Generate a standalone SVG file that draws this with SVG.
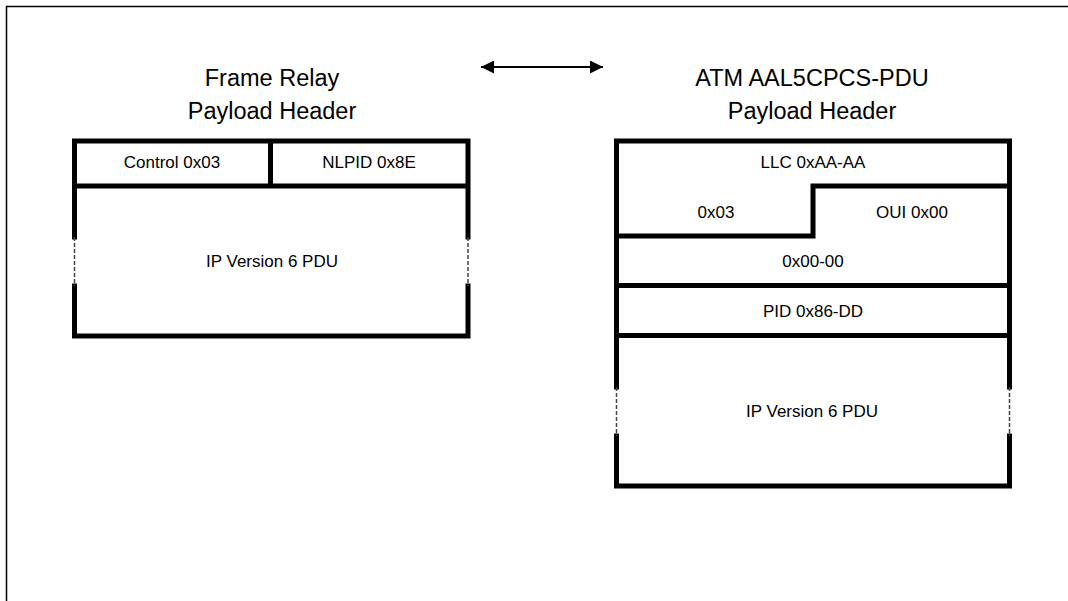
<svg xmlns="http://www.w3.org/2000/svg" width="1068" height="601" viewBox="0 0 1068 601">
<style>
.t{font-family:"Liberation Sans",Arial,sans-serif;fill:#000;text-anchor:middle}
.h{font-size:23.5px}
.s{font-size:17px}
.b{stroke:#000;stroke-width:5;fill:none;stroke-linecap:square}
.d{stroke:#444;stroke-width:1.5;stroke-dasharray:4 2;fill:none}
</style>
<defs>
<marker id="ah" viewBox="0 0 13 13" refX="13" refY="6.5" markerWidth="13" markerHeight="13" markerUnits="userSpaceOnUse" orient="auto-start-reverse">
<path d="M0,0 L13,6.5 L0,13 z" fill="#000"/>
</marker>
</defs>
<rect width="1068" height="601" fill="#fff"/>
<g id="frame"><path d="M6.5,601 V6.5 H1068" stroke="#000" stroke-width="1.5" fill="none"/></g>
<g id="title-fr"><text class="t h" x="272" y="86">Frame Relay</text><text class="t h" x="272" y="119">Payload Header</text></g>
<g id="title-atm"><text class="t h" x="812" y="86">ATM AAL5CPCS-PDU</text><text class="t h" x="812" y="119">Payload Header</text></g>
<g id="connectors"><line x1="481" y1="67" x2="603" y2="67" stroke="#000" stroke-width="2" marker-start="url(#ah)" marker-end="url(#ah)"/></g>
<g id="fr-box">
<path class="b" d="M74.5,237 V141 H468 V237 M74.5,286 V336 H468 V286 M74.5,186 H468 M270.5,141 V186"/>
<path class="d" d="M74.5,237 V286 M468,237 V286"/>
<text class="t s" x="172" y="168">Control 0x03</text>
<text class="t s" x="369" y="168">NLPID 0x8E</text>
<text class="t s" x="272" y="267">IP Version 6 PDU</text>
</g>
<g id="atm-box">
<path class="b" d="M616.5,387 V141 H1009.5 V387 M616.5,436 V486 H1009.5 V436 M1009.5,186 H813 V236 H616.5 M616.5,285.5 H1009.5 M616.5,335.5 H1009.5"/>
<path class="d" d="M616.5,387 V436 M1009.5,387 V436"/>
<text class="t s" x="813" y="167.5">LLC 0xAA-AA</text>
<text class="t s" x="716" y="218">0x03</text>
<text class="t s" x="912" y="218">OUI 0x00</text>
<text class="t s" x="813" y="267">0x00-00</text>
<text class="t s" x="813" y="317">PID 0x86-DD</text>
<text class="t s" x="812" y="417">IP Version 6 PDU</text>
</g>
</svg>
